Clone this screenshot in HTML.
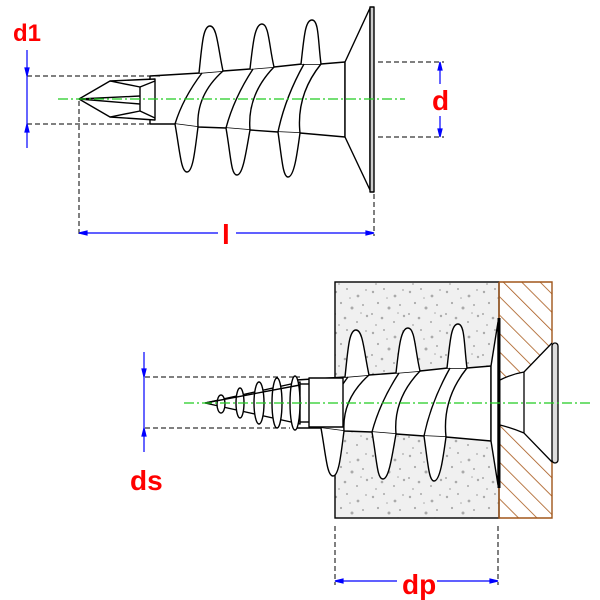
<!DOCTYPE html>
<html><head><meta charset="utf-8"><style>html,body{margin:0;padding:0;background:#fff}svg{display:block}</style></head>
<body>
<svg width="600" height="600" viewBox="0 0 600 600" xmlns="http://www.w3.org/2000/svg">
<defs>
<pattern id="hatch" patternUnits="userSpaceOnUse" width="13" height="13" patternTransform="rotate(-45)">
<line x1="0" y1="0" x2="0" y2="13" stroke="#a8581a" stroke-width="1.6"/>
</pattern>
<pattern id="speck" patternUnits="userSpaceOnUse" width="37" height="41">
<rect width="37" height="41" fill="#f0f0f0"/>
<g fill="#aaa">
<circle cx="3" cy="5" r="1.2"/><circle cx="14" cy="2" r="1"/><circle cx="25" cy="9" r="1.4"/><circle cx="33" cy="3" r="0.9"/>
<circle cx="8" cy="16" r="1.1"/><circle cx="19" cy="21" r="1.5"/><circle cx="30" cy="18" r="1"/><circle cx="2" cy="27" r="1"/>
<circle cx="12" cy="31" r="1.3"/><circle cx="24" cy="35" r="1"/><circle cx="34" cy="29" r="1.2"/><circle cx="6" cy="38" r="0.9"/>
<circle cx="17" cy="11" r="0.8"/><circle cx="28" cy="26" r="0.8"/>
</g>
</pattern>
<g id="body" stroke="#000" stroke-width="1.4" fill="#fff" stroke-linejoin="round">
<polygon points="150,76 200,73 223,71 250,69 274,67 302,64 321,64 345,62 345,137 300,133 278,132 250,130 226,128 198,127 175,124 150,124"/>
<path d="M199,73 C202,45 203,26 210,26 C217,26 218,48 223,71"/>
<path d="M250,69 C253,42 255,24 262,24 C269,24 269,46 274,67"/>
<path d="M301,64 C304,38 305,20 312,20 C319,20 318,42 321,64"/>
<path d="M175,124 C180,152 181,172 187,172 C193,172 195,150 198,127"/>
<path d="M226,128 C231,157 231,175 237,175 C243,175 246,152 250,130"/>
<path d="M278,132 C282,160 283,177 288,177 C294,177 297,155 300,133"/>
<path d="M202,73 Q183,98 175,124" fill="none"/>
<path d="M223,71 Q196,95 198,127" fill="none"/>
<path d="M253,69 Q234,98 226,128" fill="none"/>
<path d="M274,67 Q247,95 250,130" fill="none"/>
<path d="M304,64 Q285,98 278,132" fill="none"/>
<path d="M321,64 Q296,95 300,133" fill="none"/>
</g>
</defs>

<use href="#body"/>
<g stroke="#000" stroke-width="1.4" fill="#fff" stroke-linejoin="round">
<polygon points="345,62 370,8 370,190 345,137"/>
<rect x="370" y="7" width="4" height="185" fill="#ccc"/>
<polygon points="79,99 110,81 155,79 155,120 110,117"/>
<line x1="110" y1="81" x2="140" y2="87"/><line x1="110" y1="117" x2="140" y2="111"/>
<line x1="79" y1="99" x2="140" y2="96"/><line x1="79" y1="99" x2="140" y2="104"/>
<line x1="140" y1="87" x2="140" y2="111"/>
<line x1="140" y1="87" x2="155" y2="81"/><line x1="140" y1="111" x2="155" y2="118"/>
</g>
<line x1="58" y1="99" x2="405" y2="99" stroke="#2c2" stroke-width="1.2" stroke-dasharray="10,3,2,3"/>
<g stroke="#000" stroke-width="1" stroke-dasharray="5,3" fill="none">
<line x1="27" y1="76" x2="160" y2="76"/><line x1="27" y1="124" x2="160" y2="124"/>
<line x1="79" y1="101" x2="79" y2="236"/><line x1="374" y1="194" x2="374" y2="236"/>
<line x1="378" y1="62" x2="444" y2="62"/><line x1="378" y1="137" x2="444" y2="137"/>
</g>
<g stroke="#00f" stroke-width="1.2" fill="#00f">
<line x1="27" y1="50" x2="27" y2="148"/>
<polygon points="27,76 25,68 29,68" /><polygon points="27,124 25,132 29,132"/>
<line x1="440" y1="64" x2="440" y2="84"/><line x1="440" y1="116" x2="440" y2="135"/>
<polygon points="440,62 438,70 442,70"/><polygon points="440,137 438,129 442,129"/>
<line x1="81" y1="233" x2="218" y2="233"/><line x1="236" y1="233" x2="372" y2="233"/>
<polygon points="79,233 87,231 87,235"/><polygon points="374,233 366,231 366,235"/>
</g>
<g fill="#f00" font-family="Liberation Sans, sans-serif" font-weight="bold">
<text x="13" y="41" font-size="24">d1</text>
<text x="432" y="110" font-size="28">d</text>
<text x="222" y="244" font-size="28">l</text>
<text x="130" y="490" font-size="28">ds</text>
<text x="402" y="594" font-size="28">dp</text>
</g>

<rect x="335" y="282" width="164" height="236" fill="url(#speck)" stroke="#000" stroke-width="1.4"/>
<path d="M499,282 H552 V343 L524,372 Q510,374 500,380 Z" fill="url(#hatch)"/>
<path d="M500,425 Q512,428 524,433 L552,462 V518 H499 Z" fill="url(#hatch)"/>
<path d="M499,282 H552 V343 M552,462 V518 H499 V282" fill="none" stroke="#a0561a" stroke-width="1.4"/>
<path d="M500,380 Q512,374 524,372 L552,343 M500,425 Q512,428 524,433 L552,462 M524,372 V433" fill="none" stroke="#000" stroke-width="1.3"/>
<rect x="552" y="343" width="6" height="120" rx="3" fill="#ddd" stroke="#000" stroke-width="1.3"/>
<use href="#body" transform="translate(146,304)"/>
<g stroke="#000" stroke-width="1.4" fill="#fff" stroke-linejoin="round">
<polygon points="491,366 498,322 498,485 491,441"/>
<line x1="499" y1="318" x2="499" y2="488" stroke-width="3"/>
<rect x="309" y="378" width="34" height="49"/>
<polygon points="205,403 300,382 300,424"/>
<ellipse cx="295" cy="403" rx="5" ry="27"/>
<ellipse cx="277" cy="403" rx="5" ry="25"/>
<ellipse cx="259" cy="403" rx="5" ry="21"/>
<ellipse cx="240" cy="403" rx="4" ry="15"/>
<ellipse cx="221" cy="404" rx="4" ry="9"/>
<line x1="205" y1="403" x2="300" y2="385" fill="none"/>
<line x1="300" y1="384" x2="309" y2="384"/><line x1="300" y1="422" x2="309" y2="422"/>
</g>
<line x1="184" y1="403" x2="590" y2="403" stroke="#2c2" stroke-width="1.2" stroke-dasharray="10,3,2,3"/>
<g stroke="#000" stroke-width="1" stroke-dasharray="5,3" fill="none">
<line x1="145" y1="377" x2="300" y2="377"/><line x1="145" y1="428" x2="290" y2="428"/>
<line x1="335" y1="526" x2="335" y2="585"/><line x1="498" y1="526" x2="498" y2="585"/>
</g>
<g stroke="#00f" stroke-width="1.2" fill="#00f">
<line x1="144" y1="352" x2="144" y2="452"/>
<polygon points="144,377 142,369 146,369"/><polygon points="144,428 142,436 146,436"/>
<line x1="337" y1="581" x2="397" y2="581"/><line x1="437" y1="581" x2="496" y2="581"/>
<polygon points="335,581 343,579 343,583"/><polygon points="498,581 490,579 490,583"/>
</g>
</svg>
</body></html>
